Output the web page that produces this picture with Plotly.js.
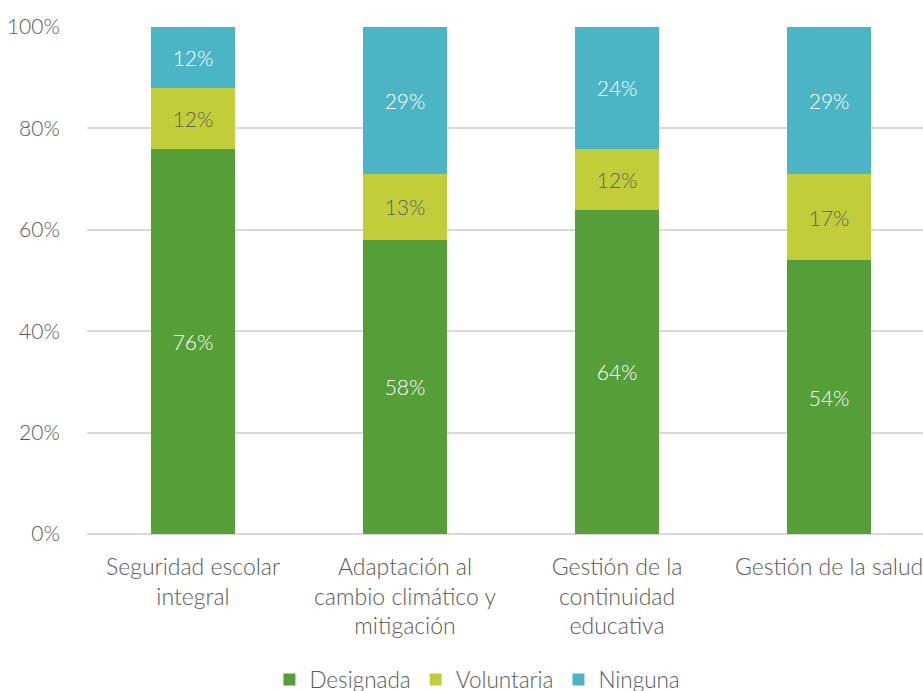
<!DOCTYPE html>
<html>
<head>
<meta charset="utf-8">
<script src="https://cdn.plot.ly/plotly-3.0.1.min.js"></script>
<style>html,body{margin:0;padding:0;background:#fff;}#chart{width:923px;height:691px;}</style>
</head>
<body>
<div id="chart"></div>
<script>
const categories = [
  "Seguridad escolar<br>integral",
  "Adaptación al<br>cambio climático y<br>mitigación",
  "Gestión de la<br>continuidad<br>educativa",
  "Gestión de la salud"
];
const designada = [76, 58, 64, 54];
const voluntaria = [12, 13, 12, 17];
const ninguna = [12, 29, 24, 29];
const yTicks = [0, 20, 40, 60, 80, 100];

const FONT = "Lato, 'Open Sans', sans-serif";
function mk(name, vals, color, txtColor) {
  return {
    type: 'bar', name: name, x: categories, y: vals,
    marker: {color: color},
    text: vals.map(v => v + '%'),
    textposition: 'inside', insidetextanchor: 'middle', textangle: 0,
    constraintext: 'none',
    insidetextfont: {family: FONT, size: 21, color: txtColor, weight: 300},
    hoverinfo: 'skip', width: 0.4
  };
}
const data = [
  mk('Designada', designada, '#559E38', '#ffffff'),
  mk('Voluntaria', voluntaria, '#C2CE39', '#5f5f5f'),
  mk('Ninguna', ninguna, '#4BB5C5', '#ffffff')
];
const layout = {
  width: 923, height: 691,
  margin: {l: 87, r: 0, t: 27, b: 157, pad: 0, autoexpand: false},
  barmode: 'stack',
  paper_bgcolor: '#fff', plot_bgcolor: '#fff',
  font: {family: FONT, size: 21, color: '#595959', weight: 300},
  showlegend: true,
  legend: {orientation: 'h', x: 0.467, xanchor: 'center', yref: 'container', y: 0.016, yanchor: 'middle',
           font: {family: FONT, size: 22.5, color: '#595959', weight: 300},
           traceorder: 'normal', itemwidth: 30},
  xaxis: {range: [-0.5, 3.443], showgrid: false, zeroline: false, showline: false,
          ticks: 'outside', ticklen: 12, tickcolor: 'rgba(0,0,0,0)',
          tickfont: {family: FONT, size: 23, color: '#595959', weight: 300}},
  yaxis: {range: [0, 100], tickvals: yTicks, ticktext: yTicks.map(v => v + '%'),
          showgrid: true, gridcolor: '#d9d9d9', gridwidth: 2,
          zeroline: true, zerolinecolor: '#d9d9d9', zerolinewidth: 2, showline: false,
          ticks: 'outside', ticklen: 22, tickcolor: 'rgba(0,0,0,0)',
          tickfont: {family: FONT, size: 21, color: '#595959', weight: 300}}
};
Plotly.newPlot('chart', data, layout, {displayModeBar: false, staticPlot: true});
</script>
</body>
</html>
